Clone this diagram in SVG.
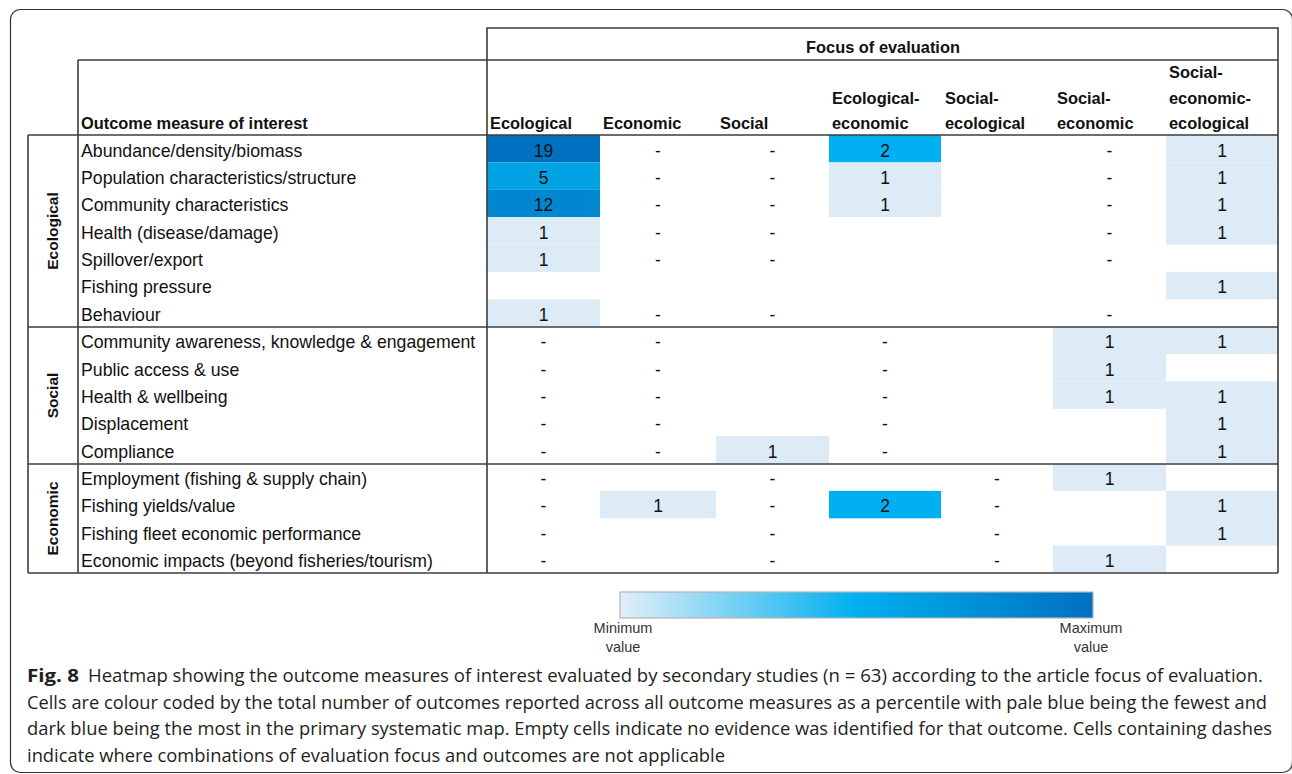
<svg xmlns="http://www.w3.org/2000/svg" width="1292" height="774" viewBox="0 0 1292 774">
<defs>
<style>
.t{font-family:"Liberation Sans",Arial,sans-serif;font-size:17.7px;fill:#111}
.h{font-family:"Liberation Sans",Arial,sans-serif;font-size:16.4px;font-weight:bold;fill:#111}
.cat{font-family:"Liberation Sans",Arial,sans-serif;font-size:15.5px;font-weight:bold;fill:#111}
.v{font-family:"Liberation Sans",Arial,sans-serif;font-size:17.5px;fill:#111;text-anchor:middle}
.lg{font-family:"Liberation Sans",Arial,sans-serif;font-size:14.5px;fill:#333;text-anchor:middle}
.cap{font-family:"Open Sans",sans-serif;font-size:18px;fill:#231F20}
.capb{font-family:"Open Sans",sans-serif;font-size:18px;font-weight:bold;fill:#231F20}
.ln{stroke:#3c3c3c;stroke-width:1.6;fill:none}
.c1{fill:#DDEBF7}.c2{fill:#00B0F0}.c5{fill:#00A2E4}.c12{fill:#0087CF}.c19{fill:#0070C0}
</style>
<linearGradient id="grad" x1="0" y1="0" x2="1" y2="0">
<stop offset="0" stop-color="#E2EEF8"/>
<stop offset="0.5" stop-color="#00B0F0"/>
<stop offset="1" stop-color="#0070C0"/>
</linearGradient>
</defs>
<rect width="1292" height="774" fill="#fff"/>
<rect id="frame" x="10.5" y="9.5" width="1282" height="763" rx="10" fill="none" stroke="#333" stroke-width="1.2"/>

<g id="cells">
<rect class="c19" x="487" y="135" width="113" height="27.4"/>
<rect class="c2" x="829" y="135" width="112" height="27.4"/>
<rect class="c1" x="1166" y="135" width="112" height="27.4"/>
<rect class="c5" x="487" y="162.4" width="113" height="27.4"/>
<rect class="c1" x="829" y="162.4" width="112" height="27.4"/>
<rect class="c1" x="1166" y="162.4" width="112" height="27.4"/>
<rect class="c12" x="487" y="189.75" width="113" height="27.4"/>
<rect class="c1" x="829" y="189.75" width="112" height="27.4"/>
<rect class="c1" x="1166" y="189.75" width="112" height="27.4"/>
<rect class="c1" x="487" y="217.1" width="113" height="27.4"/>
<rect class="c1" x="1166" y="217.1" width="112" height="27.4"/>
<rect class="c1" x="487" y="244.5" width="113" height="27.4"/>
<rect class="c1" x="1166" y="271.9" width="112" height="27.4"/>
<rect class="c1" x="487" y="299.25" width="113" height="27.4"/>
<rect class="c1" x="1053" y="326.6" width="113" height="27.4"/>
<rect class="c1" x="1166" y="326.6" width="112" height="27.4"/>
<rect class="c1" x="1053" y="354" width="113" height="27.4"/>
<rect class="c1" x="1053" y="381.4" width="113" height="27.4"/>
<rect class="c1" x="1166" y="381.4" width="112" height="27.4"/>
<rect class="c1" x="1166" y="408.75" width="112" height="27.4"/>
<rect class="c1" x="716" y="436.1" width="113" height="27.4"/>
<rect class="c1" x="1166" y="436.1" width="112" height="27.4"/>
<rect class="c1" x="1053" y="463.5" width="113" height="27.4"/>
<rect class="c1" x="600" y="490.9" width="116" height="27.4"/>
<rect class="c2" x="829" y="490.9" width="112" height="27.4"/>
<rect class="c1" x="1166" y="490.9" width="112" height="27.4"/>
<rect class="c1" x="1166" y="518.25" width="112" height="27.4"/>
<rect class="c1" x="1053" y="545.6" width="113" height="27.4"/>
</g>

<g id="grid">
<polyline class="ln" points="487,573 487,28 1278,28 1278,573"/>
<line class="ln" x1="78" y1="60" x2="1278" y2="60"/>
<line class="ln" x1="78" y1="60" x2="78" y2="573"/>
<line class="ln" x1="28" y1="135" x2="1278" y2="135"/>
<line class="ln" x1="28" y1="135" x2="28" y2="573"/>
<line class="ln" x1="28" y1="327" x2="1278" y2="327"/>
<line class="ln" x1="28" y1="464" x2="1278" y2="464"/>
<line class="ln" x1="28" y1="573" x2="1278" y2="573"/>
</g>

<g id="header">
<text class="h" x="883" y="53" text-anchor="middle">Focus of evaluation</text>
<text class="h" x="81" y="129">Outcome measure of interest</text>
<text class="h" x="490" y="129">Ecological</text>
<text class="h" x="603" y="129">Economic</text>
<text class="h" x="720" y="129">Social</text>
<text class="h" x="832" y="104">Ecological-</text>
<text class="h" x="832" y="129">economic</text>
<text class="h" x="945" y="104">Social-</text>
<text class="h" x="945" y="129">ecological</text>
<text class="h" x="1057" y="104">Social-</text>
<text class="h" x="1057" y="129">economic</text>
<text class="h" x="1169" y="78">Social-</text>
<text class="h" x="1169" y="104">economic-</text>
<text class="h" x="1169" y="129">ecological</text>
</g>

<g id="categories">
<text class="cat" transform="translate(58,231) rotate(-90)" text-anchor="middle">Ecological</text>
<text class="cat" transform="translate(58,395.5) rotate(-90)" text-anchor="middle">Social</text>
<text class="cat" transform="translate(58,518.5) rotate(-90)" text-anchor="middle">Economic</text>
</g>

<g id="row-labels">
<text class="t" x="81" y="156.5">Abundance/density/biomass</text>
<text class="t" x="81" y="183.9">Population characteristics/structure</text>
<text class="t" x="81" y="211.3">Community characteristics</text>
<text class="t" x="81" y="238.6">Health (disease/damage)</text>
<text class="t" x="81" y="266">Spillover/export</text>
<text class="t" x="81" y="293.4">Fishing pressure</text>
<text class="t" x="81" y="320.8">Behaviour</text>
<text class="t" x="81" y="348.1">Community awareness, knowledge &amp; engagement</text>
<text class="t" x="81" y="375.5">Public access &amp; use</text>
<text class="t" x="81" y="402.9">Health &amp; wellbeing</text>
<text class="t" x="81" y="430.3">Displacement</text>
<text class="t" x="81" y="457.6">Compliance</text>
<text class="t" x="81" y="485">Employment (fishing &amp; supply chain)</text>
<text class="t" x="81" y="512.4">Fishing yields/value</text>
<text class="t" x="81" y="539.8">Fishing fleet economic performance</text>
<text class="t" x="81" y="567.1">Economic impacts (beyond fisheries/tourism)</text>
</g>

<g id="values">
<text class="v" x="543.5" y="156.5">19</text><text class="v" x="658" y="156.5">-</text><text class="v" x="772.5" y="156.5">-</text><text class="v" x="885" y="156.5">2</text><text class="v" x="1109.5" y="156.5">-</text><text class="v" x="1222" y="156.5">1</text>
<text class="v" x="543.5" y="183.9">5</text><text class="v" x="658" y="183.9">-</text><text class="v" x="772.5" y="183.9">-</text><text class="v" x="885" y="183.9">1</text><text class="v" x="1109.5" y="183.9">-</text><text class="v" x="1222" y="183.9">1</text>
<text class="v" x="543.5" y="211.3">12</text><text class="v" x="658" y="211.3">-</text><text class="v" x="772.5" y="211.3">-</text><text class="v" x="885" y="211.3">1</text><text class="v" x="1109.5" y="211.3">-</text><text class="v" x="1222" y="211.3">1</text>
<text class="v" x="543.5" y="238.6">1</text><text class="v" x="658" y="238.6">-</text><text class="v" x="772.5" y="238.6">-</text><text class="v" x="1109.5" y="238.6">-</text><text class="v" x="1222" y="238.6">1</text>
<text class="v" x="543.5" y="266">1</text><text class="v" x="658" y="266">-</text><text class="v" x="772.5" y="266">-</text><text class="v" x="1109.5" y="266">-</text>
<text class="v" x="1222" y="293.4">1</text>
<text class="v" x="543.5" y="320.8">1</text><text class="v" x="658" y="320.8">-</text><text class="v" x="772.5" y="320.8">-</text><text class="v" x="1109.5" y="320.8">-</text>
<text class="v" x="543.5" y="348.1">-</text><text class="v" x="658" y="348.1">-</text><text class="v" x="885" y="348.1">-</text><text class="v" x="1109.5" y="348.1">1</text><text class="v" x="1222" y="348.1">1</text>
<text class="v" x="543.5" y="375.5">-</text><text class="v" x="658" y="375.5">-</text><text class="v" x="885" y="375.5">-</text><text class="v" x="1109.5" y="375.5">1</text>
<text class="v" x="543.5" y="402.9">-</text><text class="v" x="658" y="402.9">-</text><text class="v" x="885" y="402.9">-</text><text class="v" x="1109.5" y="402.9">1</text><text class="v" x="1222" y="402.9">1</text>
<text class="v" x="543.5" y="430.3">-</text><text class="v" x="658" y="430.3">-</text><text class="v" x="885" y="430.3">-</text><text class="v" x="1222" y="430.3">1</text>
<text class="v" x="543.5" y="457.6">-</text><text class="v" x="658" y="457.6">-</text><text class="v" x="772.5" y="457.6">1</text><text class="v" x="885" y="457.6">-</text><text class="v" x="1222" y="457.6">1</text>
<text class="v" x="543.5" y="485">-</text><text class="v" x="772.5" y="485">-</text><text class="v" x="997" y="485">-</text><text class="v" x="1109.5" y="485">1</text>
<text class="v" x="543.5" y="512.4">-</text><text class="v" x="658" y="512.4">1</text><text class="v" x="772.5" y="512.4">-</text><text class="v" x="885" y="512.4">2</text><text class="v" x="997" y="512.4">-</text><text class="v" x="1222" y="512.4">1</text>
<text class="v" x="543.5" y="539.8">-</text><text class="v" x="772.5" y="539.8">-</text><text class="v" x="997" y="539.8">-</text><text class="v" x="1222" y="539.8">1</text>
<text class="v" x="543.5" y="567.1">-</text><text class="v" x="772.5" y="567.1">-</text><text class="v" x="997" y="567.1">-</text><text class="v" x="1109.5" y="567.1">1</text>
</g>

<g id="legend">
<rect x="620" y="592" width="473" height="26" fill="url(#grad)" stroke="#b5b5b5" stroke-width="1.2"/>
<text class="lg" x="623" y="633">Minimum</text>
<text class="lg" x="623" y="652">value</text>
<text class="lg" x="1091" y="633">Maximum</text>
<text class="lg" x="1091" y="652">value</text>
</g>

<g id="caption">
<text class="capb" x="27" y="682" textLength="52" lengthAdjust="spacingAndGlyphs">Fig. 8</text>
<text class="cap" x="88" y="682" textLength="1175" lengthAdjust="spacingAndGlyphs">Heatmap showing the outcome measures of interest evaluated by secondary studies (n = 63) according to the article focus of evaluation.</text>
<text class="cap" x="27" y="708.5" textLength="1240" lengthAdjust="spacingAndGlyphs">Cells are colour coded by the total number of outcomes reported across all outcome measures as a percentile with pale blue being the fewest and</text>
<text class="cap" x="27" y="735" textLength="1245" lengthAdjust="spacingAndGlyphs">dark blue being the most in the primary systematic map. Empty cells indicate no evidence was identified for that outcome. Cells containing dashes</text>
<text class="cap" x="27" y="761.5" textLength="698" lengthAdjust="spacingAndGlyphs">indicate where combinations of evaluation focus and outcomes are not applicable</text>
</g>
</svg>
